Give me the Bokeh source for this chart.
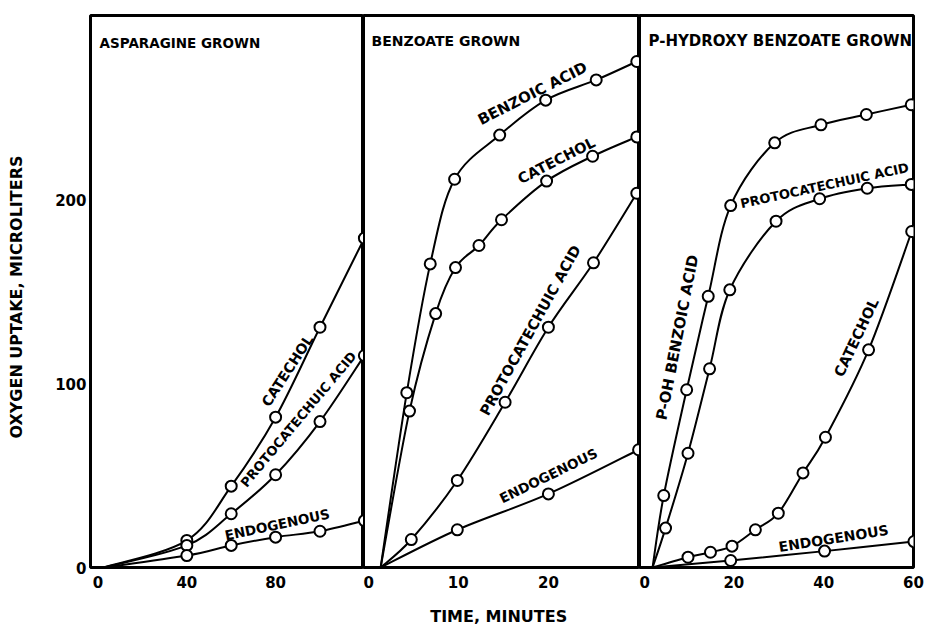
import numpy as np
from bokeh.plotting import figure
from bokeh.layouts import row
from bokeh.models import Range1d, Label, FixedTicker
from bokeh.embed import file_html
from bokeh.resources import INLINE

# ---------------- data (minutes, microliters O2) ----------------
# Panel 1: asparagine grown
asp_start = 2.5
asp_time = [40, 60, 80, 100, 120]
asp_catechol = [14.7, 44.2, 81.7, 130.6, 179.0]
asp_proto = [12.0, 29.2, 50.4, 79.3, 115.2]
asp_endo = [6.5, 12.0, 16.5, 19.7, 25.5]

# Panel 2: benzoate grown
ben_start = 1.4
ben_benzoic_t = [4.3, 6.9, 9.6, 14.6, 19.7, 25.3, 29.8]
ben_benzoic = [95, 165, 211, 235, 254, 265, 275]
ben_catechol_t = [4.6, 7.5, 9.7, 12.3, 14.8, 19.8, 24.9, 29.8]
ben_catechol = [85, 138, 163, 175, 189, 210, 223.5, 234]
ben_proto_t = [4.8, 9.9, 15.2, 20.0, 25.0, 29.8]
ben_proto = [15.2, 47.3, 89.8, 130.6, 165.6, 203.4]
ben_endo_t = [9.9, 20.0, 30.0]
ben_endo = [20.5, 40.0, 64.0]

# Panel 3: p-hydroxy benzoate grown
phb_start = 1.9
phb_poh_t = [4.4, 9.5, 14.3, 19.3, 29.1, 39.4, 49.5, 59.5]
phb_poh = [39.1, 96.6, 147.4, 196.7, 230.8, 240.6, 246.2, 251.5]
phb_proto_t = [4.8, 9.8, 14.6, 19.1, 29.4, 39.1, 49.7, 59.5]
phb_proto = [21.4, 62.1, 108.0, 150.9, 188.2, 200.4, 206.1, 208.2]
phb_catechol_t = [9.8, 14.8, 19.6, 24.8, 29.9, 35.4, 40.4, 50.0, 59.6]
phb_catechol = [5.6, 8.3, 11.6, 20.5, 29.5, 51.4, 70.8, 118.3, 182.6]
phb_endo_t = [19.3, 40.2, 60.1]
phb_endo = [3.8, 8.9, 14.1]

y_ticks = [0, 100, 200]
asp_ticks = [0, 40, 80]
ben_ticks = [0, 10, 20]
phb_ticks = [0, 20, 40, 60]

FONT = "DejaVu Sans"
H = 628
TOP = 15
BOTTOM = H - 567


def smooth(p, xs, ys):
    x = np.asarray(xs, float)
    y = np.asarray(ys, float)
    n = len(x)
    xp = np.concatenate([[x[0]], x, [x[-1]]])
    yp = np.concatenate([[y[0]], y, [y[-1]]])
    cx0 = x[:-1] + (xp[2:n + 1] - xp[0:n - 1]) / 6.0
    cy0 = y[:-1] + (yp[2:n + 1] - yp[0:n - 1]) / 6.0
    cx1 = x[1:] - (xp[3:n + 2] - xp[1:n]) / 6.0
    cy1 = y[1:] - (yp[3:n + 2] - yp[1:n]) / 6.0
    p.bezier(x0=x[:-1], y0=y[:-1], x1=x[1:], y1=y[1:], cx0=cx0, cy0=cy0,
             cx1=cx1, cy1=cy1, line_color="black", line_width=2)


def series(p, start, ts, vs):
    smooth(p, [start] + list(ts), [0] + list(vs))


def markers(p, ts, vs):
    p.scatter(ts, vs, marker="circle", size=11, fill_color="white",
              line_color="black", line_width=2)


def make_fig(width, xr, ticks, left, right, yaxis):
    p = figure(width=width, height=H, x_range=Range1d(*xr), y_range=Range1d(0, 300),
               output_backend="svg", toolbar_location=None,
               y_axis_location="left" if yaxis else None,
               min_border_left=left, min_border_right=right,
               min_border_top=TOP, min_border_bottom=BOTTOM)
    p.grid.visible = False
    p.outline_line_color = "black"
    p.outline_line_width = 3
    p.background_fill_color = "white"
    p.border_fill_color = "white"
    axes = [p.xaxis[0]] + ([p.yaxis[0]] if yaxis else [])
    for ax in axes:
        ax.axis_line_color = None
        ax.major_tick_line_color = None
        ax.minor_tick_line_color = None
        ax.major_tick_in = 0
        ax.major_tick_out = 0
        ax.minor_tick_in = 0
        ax.minor_tick_out = 0
        ax.major_label_text_font = FONT
        ax.major_label_text_font_style = "bold"
        ax.major_label_text_font_size = "15px"
        ax.major_label_text_color = "black"
        ax.axis_label_text_font = FONT
        ax.axis_label_text_font_style = "bold"
        ax.axis_label_text_font_size = "16px"
        ax.axis_label_text_color = "black"
    p.xaxis.ticker = FixedTicker(ticks=ticks)
    p.xaxis.major_label_standoff = 8
    if yaxis:
        p.yaxis.ticker = FixedTicker(ticks=y_ticks)
        p.yaxis.major_label_standoff = 4
    return p


def lab(p, x, y, text, angle_deg=0, size="14px", align="center"):
    p.add_layout(Label(x=x, y=y, text=text, angle=np.deg2rad(angle_deg),
                       text_font=FONT, text_font_style="bold",
                       text_font_size=size, text_align=align,
                       text_baseline="middle", text_color="black"))


# Panel 1
p1 = make_fig(363, (-3.4, 119.6), asp_ticks, 90, 0, True)
for vs in (asp_catechol, asp_proto, asp_endo):
    series(p1, asp_start, asp_time, vs)
for vs in (asp_catechol, asp_proto, asp_endo):
    markers(p1, asp_time, vs)
lab(p1, 0.7, 285, "ASPARAGINE GROWN", 0, "13.5px", "left")
lab(p1, 85.3, 107, "CATECHOL", 57, "14px")
lab(p1, 90.3, 80.5, "PROTOCATECHUIC ACID", 50, "13px")
lab(p1, 80.7, 23.4, "ENDOGENOUS", 12, "13.5px")
p1.yaxis.axis_label = "OXYGEN  UPTAKE,  MICROLITERS"
p1.yaxis.axis_label_standoff = 26

# Panel 2
p2 = make_fig(276, (-0.5, 30.1), ben_ticks, 0, 0, False)
for ts, vs in ((ben_benzoic_t, ben_benzoic), (ben_catechol_t, ben_catechol),
               (ben_proto_t, ben_proto), (ben_endo_t, ben_endo)):
    series(p2, ben_start, ts, vs)
for ts, vs in ((ben_benzoic_t, ben_benzoic), (ben_catechol_t, ben_catechol),
               (ben_proto_t, ben_proto), (ben_endo_t, ben_endo)):
    markers(p2, ts, vs)
lab(p2, 0.39, 286, "BENZOATE GROWN", 0, "14px", "left")
lab(p2, 18.24, 257.6, "BENZOIC ACID", 27, "15px")
lab(p2, 20.9, 221.2, "CATECHOL", 27, "14.5px")
lab(p2, 18.0, 128.8, "PROTOCATECHUIC ACID", 61, "14.5px")
lab(p2, 20.0, 50, "ENDOGENOUS", 26, "13.5px")
p2.xaxis.axis_label = "TIME,  MINUTES"
p2.xaxis.axis_label_standoff = 16

# Panel 3
p3 = make_fig(289, (-1.0, 60.0), phb_ticks, 0, 15, False)
for ts, vs in ((phb_poh_t, phb_poh), (phb_proto_t, phb_proto),
               (phb_catechol_t, phb_catechol), (phb_endo_t, phb_endo)):
    series(p3, phb_start, ts, vs)
for ts, vs in ((phb_poh_t, phb_poh), (phb_proto_t, phb_proto),
               (phb_catechol_t, phb_catechol), (phb_endo_t, phb_endo)):
    markers(p3, ts, vs)
lab(p3, 1.0, 286.4, "P-HYDROXY BENZOATE GROWN", 0, "15px", "left")
lab(p3, 40.2, 207.6, "PROTOCATECHUIC ACID", 12.3, "13px")
lab(p3, 7.45, 125, "P-OH BENZOIC ACID", 79, "15px")
lab(p3, 47.3, 125, "CATECHOL", 64.6, "14.5px")
lab(p3, 42.2, 15.8, "ENDOGENOUS", 9, "14px")

layout = row(p1, p2, p3, spacing=0)
open("out.html", "w").write(file_html(layout, INLINE))
